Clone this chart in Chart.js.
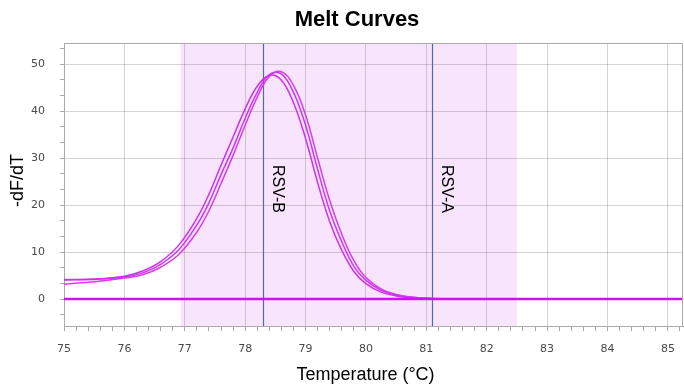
<!DOCTYPE html>
<html>
<head>
<meta charset="utf-8">
<script src="https://cdn.jsdelivr.net/npm/chart.js@4.4.0/dist/chart.umd.min.js"></script>
<style>
    html, body { margin: 0; padding: 0; background: #fff; }
    #wrap { width: 684px; height: 392px; }
</style>
</head>
<body>
<div id="wrap"><canvas id="meltChart" width="684" height="392"></canvas></div>
<script>
// temperatures (°C) where the curves were read
const temps = [75, 75.5, 76, 76.3, 76.6, 76.9, 77.2, 77.4, 77.6, 77.8, 78, 78.2, 78.4, 78.6, 78.8,
               79, 79.2, 79.4, 79.6, 79.8, 80, 80.25, 80.5, 80.75, 81, 81.5, 82, 83, 84, 85.25];

// -dF/dT for the three sample curves
const sampleA = [4.2, 4.3, 4.9, 6.0, 8.0, 11.5, 17.2, 22.3, 28.5, 34.5, 40.5, 45.3, 47.6, 46.6, 41.8,
                 34.2, 24.8, 16.5, 10.4, 5.9, 3.3, 1.5, 0.7, 0.3, 0.15, 0.04, 0, 0, 0, 0];
const sampleB = [4.1, 4.2, 4.7, 5.6, 7.4, 10.5, 15.8, 20.5, 26.5, 32.2, 38.5, 44.0, 47.8, 47.9, 44.0,
                 37.0, 27.6, 18.8, 12.2, 7.0, 4.0, 1.9, 0.9, 0.4, 0.2, 0.05, 0, 0, 0, 0];
const sampleC = [3.2, 3.7, 4.5, 5.2, 6.8, 9.5, 14.3, 18.8, 24.6, 30.6, 37.0, 43.0, 47.4, 48.4, 45.5,
                 39.2, 30.0, 21.0, 13.8, 8.2, 4.6, 2.2, 1.0, 0.45, 0.2, 0.06, 0, 0, 0, 0];

// negative / no-template wells (flat at zero)
const flatTemps = [75, 85.25];
const flatA = [0.1, 0.1];
const flatB = [0, 0];

// melt window and target markers
const bandRange = [76.93, 82.5];
const markerNames = ['RSV-B', 'RSV-A'];
const markerTemps = [78.3, 81.1];

// axis ticks
const xMajorTicks = [75, 76, 77, 78, 79, 80, 81, 82, 83, 84, 85];
const yMajorTicks = [0, 10, 20, 30, 40, 50];
const xMinorSteps = 5;
const yMinorSteps = 3;

const chartTitle = 'Melt Curves';
const xTitle = 'Temperature (°C)';
const yTitle = '-dF/dT';

const toPoints = (xs, ys) => xs.map((x, i) => ({ x: x, y: ys[i] }));

function buildTicks(majors, steps, lo, hi) {
    const gap = (majors[1] - majors[0]) / steps;
    const out = [];
    for (let k = -steps; k <= (majors.length) * steps; k++) {
        const v = majors[0] + k * gap;
        if (v < lo - 1e-6 || v > hi + 1e-6) continue;
        out.push({ value: v, major: k % steps === 0 && k >= 0 && k < majors.length * steps });
    }
    return out;
}

const gridColor = 'rgba(110, 110, 110, 0.3)';
const axisColor = '#aaaaaa';

const meltDecor = {
    id: 'meltDecor',
    beforeDraw(chart) {
        const { ctx, chartArea: a, scales: { x } } = chart;
        const l = x.getPixelForValue(bandRange[0]);
        const r = x.getPixelForValue(bandRange[1]);
        ctx.save();
        ctx.fillStyle = '#f8e4fd';
        ctx.fillRect(l, a.top, r - l, a.bottom - a.top);
        ctx.restore();
    },
    beforeDatasetsDraw(chart) {
        const { ctx, chartArea: a, scales: { x } } = chart;
        ctx.save();
        markerTemps.forEach((t, i) => {
            const px = Math.round(x.getPixelForValue(t)) + 0.5;
            ctx.strokeStyle = '#4f6d9c';
            ctx.lineWidth = 1.2;
            ctx.beginPath();
            ctx.moveTo(px, a.top);
            ctx.lineTo(px, a.bottom);
            ctx.stroke();

            ctx.save();
            ctx.translate(px + 6, a.top + 122);
            ctx.rotate(Math.PI / 2);
            ctx.fillStyle = '#000';
            ctx.font = '16px "Liberation Sans", Arial, sans-serif';
            ctx.textAlign = 'left';
            ctx.textBaseline = 'bottom';
            ctx.fillText(markerNames[i], 0, 0);
            ctx.restore();
        });
        ctx.restore();
    },
    afterDraw(chart) {
        const { ctx, chartArea: a } = chart;
        ctx.save();
        ctx.strokeStyle = axisColor;
        ctx.lineWidth = 1;
        ctx.beginPath();
        ctx.moveTo(a.left, a.top + 0.5);
        ctx.lineTo(a.right - 0.5, a.top + 0.5);
        ctx.lineTo(a.right - 0.5, a.bottom);
        ctx.stroke();

        ctx.fillStyle = '#000';
        ctx.textAlign = 'center';
        ctx.textBaseline = 'middle';
        ctx.font = 'bold 22px "Liberation Sans", Arial, sans-serif';
        ctx.fillText(chartTitle, chart.width / 2 + 15, 20);

        ctx.font = '18px "Liberation Sans", Arial, sans-serif';
        ctx.fillText(xTitle, (a.left + a.right) / 2 - 8, 375);

        ctx.save();
        ctx.translate(18, (a.top + a.bottom) / 2 - 4);
        ctx.rotate(-Math.PI / 2);
        ctx.fillText(yTitle, 0, 0);
        ctx.restore();
        ctx.restore();
    }
};

const curveStyle = (color) => ({
    borderColor: color,
    backgroundColor: color,
    borderWidth: 1.5,
    pointRadius: 0,
    tension: 0.4,
    fill: false
});

const ctx = document.getElementById('meltChart').getContext('2d');
new Chart(ctx, {
    type: 'line',
    data: {
        datasets: [
            { label: 'flat 1', data: toPoints(flatTemps, flatA), ...curveStyle('#cc10f2'), borderWidth: 2 },
            { label: 'flat 2', data: toPoints(flatTemps, flatB), ...curveStyle('#d818ee'), borderWidth: 2 },
            { label: 'sample 1', data: toPoints(temps, sampleA), ...curveStyle('#d030f0') },
            { label: 'sample 2', data: toPoints(temps, sampleB), ...curveStyle('#c23cf0') },
            { label: 'sample 3', data: toPoints(temps, sampleC), ...curveStyle('#dc3aea') }
        ]
    },
    options: {
        responsive: false,
        animation: false,
        layout: { padding: { top: 43, right: 1, left: 0, bottom: 0 } },
        plugins: {
            legend: { display: false },
            title: { display: false },
            tooltip: { enabled: false }
        },
        scales: {
            x: {
                type: 'linear',
                min: 75,
                max: 85.25,
                afterBuildTicks: (scale) => { scale.ticks = buildTicks(xMajorTicks, xMinorSteps, 75, 85.25); },
                afterFit: (scale) => {
                    scale.height = 66;
                    scale.paddingRight = 0;
                    scale.paddingLeft = 0;
                },
                ticks: {
                    autoSkip: false,
                    maxRotation: 0,
                    padding: 12,
                    color: '#4a4a4a',
                    font: { family: '"DejaVu Sans", Tahoma, sans-serif', size: 11 },
                    callback: (v, i, ticks) => ticks[i].major ? String(Math.round(v)) : ''
                },
                grid: {
                    color: (c) => c.tick && c.tick.major ? gridColor : 'rgba(0,0,0,0)',
                    tickColor: axisColor,
                    tickLength: 5
                },
                border: { color: axisColor }
            },
            y: {
                min: -5.7,
                max: 54.5,
                afterBuildTicks: (scale) => { scale.ticks = buildTicks(yMajorTicks, yMinorSteps, -5.7, 54.5); },
                afterFit: (scale) => { scale.width = 64; },
                ticks: {
                    autoSkip: false,
                    padding: 15,
                    color: '#4a4a4a',
                    font: { family: '"DejaVu Sans", Tahoma, sans-serif', size: 11 },
                    callback: (v, i, ticks) => ticks[i].major ? String(Math.round(v)) : ''
                },
                grid: {
                    color: (c) => c.tick && c.tick.major ? gridColor : 'rgba(0,0,0,0)',
                    tickColor: axisColor,
                    tickLength: 4
                },
                border: { color: axisColor }
            }
        }
    },
    plugins: [meltDecor]
});
</script>
</body>
</html>
